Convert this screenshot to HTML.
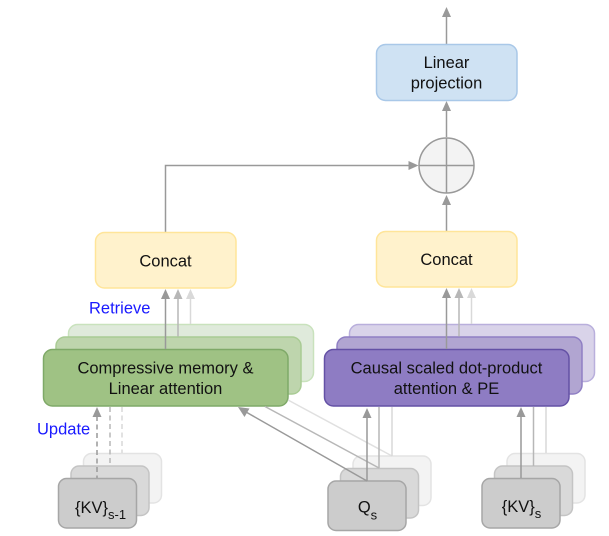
<!DOCTYPE html>
<html>
<head>
<meta charset="utf-8">
<style>
html,body{margin:0;padding:0;background:#fff}
svg{display:block}
text{font-family:"Liberation Sans",sans-serif;font-size:16.5px;fill:#111;text-anchor:middle}
.b{fill:#1a1aff;text-anchor:start}
.s{font-size:13px}
</style>
</head>
<body>
<svg width="609" height="536" viewBox="0 0 609 536" xmlns="http://www.w3.org/2000/svg">
<defs>
<g id="h1"><path d="M0 0l-4.500 10h9z" fill="#999"/></g>
<g id="h2"><path d="M0 0l-4.500 10h9z" fill="#b7b7b7"/></g>
<g id="h3"><path d="M0 0l-4.500 10h9z" fill="#d9d9d9"/></g>
</defs>

<!-- top arrows -->
<path d="M446.500 44V14" stroke="#999" stroke-width="1.500" fill="none"/>
<use href="#h1" x="446.500" y="7"/>
<path d="M446.500 137V108" stroke="#999" stroke-width="1.500" fill="none"/>
<use href="#h1" x="446.500" y="101"/>
<rect x="376.500" y="44.500" width="140.500" height="56" rx="9" fill="#cfe2f3" stroke="#a9c8e8" stroke-width="1.500"/>
<text x="446.500" y="68">Linear</text>
<text x="446.500" y="88.500">projection</text>

<!-- circle -->
<circle cx="446.500" cy="165.500" r="27.500" fill="#f3f3f3" stroke="#999" stroke-width="1.500"/>
<path d="M446.500 138V193M419 165.500H474" stroke="#999" stroke-width="1.500" fill="none"/>
<path d="M165.500 232V165.500H412" stroke="#999" stroke-width="1.500" fill="none"/>
<path d="M418.500 165.500l-10-4.500v9z" fill="#999"/>
<path d="M446.500 231V203" stroke="#999" stroke-width="1.500" fill="none"/>
<use href="#h1" x="446.500" y="195"/>

<!-- concat -->
<rect x="95.500" y="232.500" width="140.500" height="55.500" rx="9" fill="#fff2cc" stroke="#ffe599" stroke-width="1.500"/>
<text x="165.500" y="266.500">Concat</text>
<rect x="376.500" y="231.500" width="140.500" height="55.500" rx="9" fill="#fff2cc" stroke="#ffe599" stroke-width="1.500"/>
<text x="446.500" y="265">Concat</text>

<text class="b" x="89" y="313.500">Retrieve</text>
<text class="b" x="37" y="434.500">Update</text>

<!-- green stack -->
<rect x="68.500" y="324.500" width="245" height="57" rx="9" fill="#dfeadb" stroke="#c9e2bd" stroke-width="1.500"/>
<rect x="56" y="337" width="245" height="57" rx="9" fill="#bed5ad" stroke="#a9cb94" stroke-width="1.500"/>
<rect x="43.500" y="349.500" width="244.500" height="56.500" rx="9" fill="#9fc284" stroke="#7fa968" stroke-width="1.500"/>
<text x="165.500" y="373.500">Compressive memory &amp;</text>
<text x="165.500" y="394">Linear attention</text>

<!-- purple stack -->
<rect x="349.500" y="324.500" width="245" height="57" rx="9" fill="#d9d3e9" stroke="#b9afdc" stroke-width="1.500"/>
<rect x="337" y="337" width="245" height="57" rx="9" fill="#b1a5d1" stroke="#8f7fc4" stroke-width="1.500"/>
<rect x="324.500" y="349.500" width="244.500" height="56.500" rx="9" fill="#8e7cc3" stroke="#6451a5" stroke-width="1.500"/>
<text x="446.500" y="373.500">Causal scaled dot-product</text>
<text x="446.500" y="394">attention &amp; PE</text>

<!-- KV s-1 stack -->
<rect x="83.500" y="453.500" width="78" height="49.500" rx="8" fill="#f3f3f3" stroke="#e3e3e3" stroke-width="1.500"/>
<rect x="71" y="466" width="78" height="49.500" rx="8" fill="#d9d9d9" stroke="#c4c4c4" stroke-width="1.500"/>
<rect x="58.500" y="478.500" width="78" height="49.500" rx="8" fill="#cccccc" stroke="#a6a6a6" stroke-width="1.500"/>
<text x="100.500" y="513">{KV}<tspan class="s" dy="6">s-1</tspan></text>

<!-- Q stack -->
<rect x="353" y="456" width="78" height="49.500" rx="8" fill="#f3f3f3" stroke="#e3e3e3" stroke-width="1.500"/>
<rect x="340.500" y="468.500" width="78" height="49.500" rx="8" fill="#d9d9d9" stroke="#c4c4c4" stroke-width="1.500"/>
<rect x="328" y="481" width="78" height="49.500" rx="8" fill="#cccccc" stroke="#a6a6a6" stroke-width="1.500"/>
<text x="367.500" y="512.500">Q<tspan class="s" dy="7">s</tspan></text>

<!-- KV s stack -->
<rect x="507" y="453.500" width="78" height="49.500" rx="8" fill="#f3f3f3" stroke="#e3e3e3" stroke-width="1.500"/>
<rect x="494.500" y="466" width="78" height="49.500" rx="8" fill="#d9d9d9" stroke="#c4c4c4" stroke-width="1.500"/>
<rect x="482" y="478.500" width="78" height="49.500" rx="8" fill="#cccccc" stroke="#a6a6a6" stroke-width="1.500"/>
<text x="521.500" y="512">{KV}<tspan class="s" dy="6">s</tspan></text>

<!-- retrieve arrows left -->
<path d="M190.500 324V298" stroke="#d9d9d9" stroke-width="1.500"/>
<use href="#h3" x="190.500" y="289"/>
<path d="M178 336.500V298" stroke="#b7b7b7" stroke-width="1.500"/>
<use href="#h2" x="178" y="289"/>
<path d="M165.500 349V298" stroke="#999" stroke-width="1.500"/>
<use href="#h1" x="165.500" y="289"/>
<!-- retrieve arrows right -->
<path d="M471.500 324V297" stroke="#d9d9d9" stroke-width="1.500"/>
<use href="#h3" x="471.500" y="288"/>
<path d="M459 336.500V297" stroke="#b7b7b7" stroke-width="1.500"/>
<use href="#h2" x="459" y="288"/>
<path d="M446.500 349V297" stroke="#999" stroke-width="1.500"/>
<use href="#h1" x="446.500" y="288"/>

<!-- KV s-1 lines -->
<path d="M122 407V453" stroke="#d9d9d9" stroke-width="1.500" stroke-dasharray="5 3.500" fill="none"/>
<path d="M110 407V466" stroke="#b7b7b7" stroke-width="1.500" stroke-dasharray="5 3.500" fill="none"/>
<path d="M97 416V478" stroke="#999" stroke-width="1.500" stroke-dasharray="5 3.500" fill="none"/>
<use href="#h1" x="97" y="407"/>

<!-- Q diagonals -->
<path d="M392 456L288 400" stroke="#e0e0e0" stroke-width="1.500" fill="none"/>
<path d="M379 468L265 406.500" stroke="#b7b7b7" stroke-width="1.500" fill="none"/>
<path d="M367 481L246 412" stroke="#999" stroke-width="1.500" fill="none"/>
<path d="M238 407l11.500 1.500-5 8.500z" fill="#999"/>

<!-- Q verticals -->
<path d="M392 407V456" stroke="#d9d9d9" stroke-width="1.500"/>
<path d="M379 407V468" stroke="#b7b7b7" stroke-width="1.500"/>
<path d="M367 417V481" stroke="#999" stroke-width="1.500"/>
<use href="#h1" x="367" y="408"/>

<!-- KV s verticals -->
<path d="M546 407V453" stroke="#d9d9d9" stroke-width="1.500"/>
<path d="M533.500 407V466" stroke="#b7b7b7" stroke-width="1.500"/>
<path d="M521 417V478" stroke="#999" stroke-width="1.500"/>
<use href="#h1" x="521" y="407"/>
</svg>
</body>
</html>
